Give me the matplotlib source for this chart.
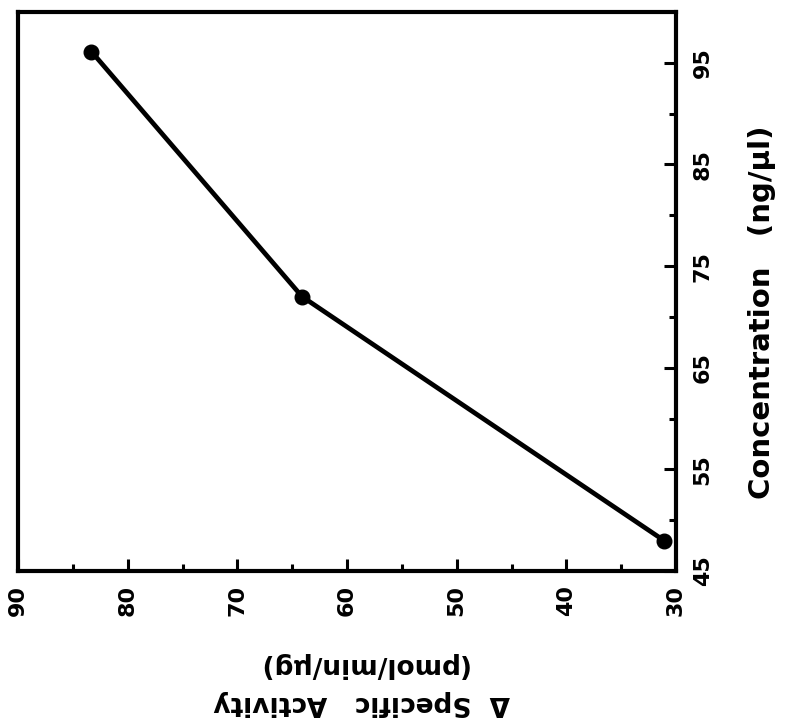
import matplotlib
matplotlib.use("Agg")
import matplotlib.pyplot as plt
from matplotlib.ticker import FixedLocator

plt.rcParams['font.family'] = ['DejaVu Sans']
plt.rcParams['font.weight'] = 'bold'

activity = [83.3, 64.1, 31.1]          # Δ Specific Activity (pmol/min/μg)
concentration = [96.1, 72.0, 48.0]     # Concentration (ng/μl)
x_ticks = [90, 80, 70, 60, 50, 40, 30]
x_minor = [85, 75, 65, 55, 45, 35]
y_ticks = [45, 55, 65, 75, 85, 95]
y_minor = [50, 60, 70, 80, 90]

fig = plt.figure(figsize=(8, 7.26), dpi=100)
ax = fig.add_axes([0.0225, 0.2135, 0.8225, 0.77])

ax.plot(activity, concentration, color='black', lw=3.4,
        marker='o', markersize=10.5, solid_capstyle='round')

ax.set_xlim(90, 30)
ax.set_ylim(45, 100)

for s in ax.spines.values():
    s.set_linewidth(3)

ax.xaxis.set_major_locator(FixedLocator(x_ticks))
ax.xaxis.set_minor_locator(FixedLocator(x_minor))
ax.yaxis.set_major_locator(FixedLocator(y_ticks))
ax.yaxis.set_minor_locator(FixedLocator(y_minor))

ax.yaxis.tick_right()
ax.tick_params(axis='x', which='both', direction='in', top=False, bottom=True,
               width=2.2, labelsize=16, pad=10, labelrotation=90)
ax.tick_params(axis='x', which='major', length=9)
ax.tick_params(axis='x', which='minor', length=5)
ax.tick_params(axis='y', which='both', direction='in', left=False, right=True,
               width=2.2, labelsize=16, pad=12, labelrotation=90)
ax.tick_params(axis='y', which='major', length=9)
ax.tick_params(axis='y', which='minor', length=5)
for lbl in ax.get_yticklabels():
    lbl.set_va('center')
    lbl.set_fontweight('bold')
for lbl in ax.get_xticklabels():
    lbl.set_fontweight('bold')

fig.text(0.4525, 0.058, "\u0394  Specific   Activity\n(pmol/min/\u03bcg)",
         rotation=180, ha='center', va='center', fontsize=19,
         linespacing=1.6, multialignment='center')
fig.text(0.952, 0.57, "Concentration   (ng/\u03bcl)", rotation=90,
         ha='center', va='center', fontsize=21)

fig.savefig("out.png", dpi=100)
